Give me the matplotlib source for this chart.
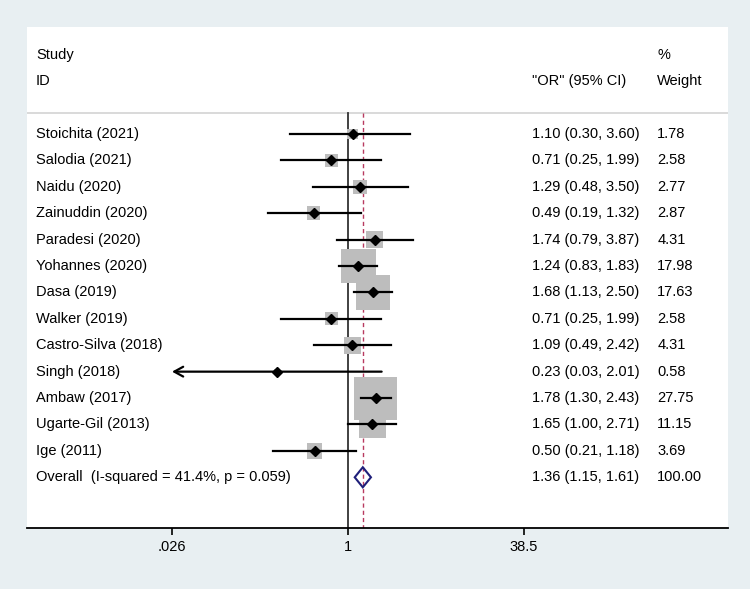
"""Forest plot of odds ratios (Stata metan style)."""

import numpy as np
import matplotlib

matplotlib.use("Agg")
import matplotlib.pyplot as plt

plt.rcParams["font.family"] = ["Liberation Sans", "DejaVu Sans"]

studies = [
    "Stoichita (2021)", "Salodia (2021)", "Naidu (2020)", "Zainuddin (2020)",
    "Paradesi (2020)", "Yohannes (2020)", "Dasa (2019)", "Walker (2019)",
    "Castro-Silva (2018)", "Singh (2018)", "Ambaw (2017)", "Ugarte-Gil (2013)",
    "Ige (2011)",
]
odds = [1.10, 0.71, 1.29, 0.49, 1.74, 1.24, 1.68, 0.71, 1.09, 0.23, 1.78, 1.65, 0.50]
ci_low = [0.30, 0.25, 0.48, 0.19, 0.79, 0.83, 1.13, 0.25, 0.49, 0.026, 1.30, 1.00, 0.21]
ci_high = [3.60, 1.99, 3.50, 1.32, 3.87, 1.83, 2.50, 1.99, 2.42, 2.01, 2.43, 2.71, 1.18]
weights = [1.78, 2.58, 2.77, 2.87, 4.31, 17.98, 17.63, 2.58, 4.31, 0.58, 27.75, 11.15, 3.69]

overall_label = "Overall  (I-squared = 41.4%, p = 0.059)"
overall_or, overall_low, overall_high = 1.36, 1.15, 1.61
overall_weight = 100.00

x_ticks = [0.026, 1, 38.5]
x_tick_labels = [".026", "1", "38.5"]

BG = "#e8eff2"
FS = 10.5

fig = plt.figure(figsize=(7.5, 5.89), dpi=100, facecolor=BG)
ax = fig.add_axes([27 / 750, 1 - 528 / 589, 701 / 750, 501 / 589])
ax.set_facecolor("white")
ax.set_xscale("log")
ax.set_xlim(0.001286, 2645)
y_bottom, y_top = 14.92, -4.05
ax.set_ylim(y_bottom, y_top)

for side in ("top", "left", "right"):
    ax.spines[side].set_visible(False)
ax.spines["bottom"].set_linewidth(1.3)
ax.set_yticks([])
ax.set_xticks(x_ticks)
ax.set_xticklabels(x_tick_labels, fontsize=FS)
ax.xaxis.set_minor_locator(matplotlib.ticker.NullLocator())
ax.tick_params(axis="x", length=5, width=1.2, pad=3.5)

sep_y = -0.8
ax.axhline(sep_y, color="#d3d3d3", lw=1.2, zorder=1)
ax.plot([1, 1], [sep_y, y_bottom], color="#333333", lw=1.3, zorder=1)
ax.plot([overall_or, overall_or], [sep_y, y_bottom], color="#b83a60", lw=1.0,
        dashes=(3, 2.2), zorder=1)

rows = np.arange(len(studies))
# weight boxes: area proportional to study weight
ax.scatter(odds, rows, marker="s", s=34.5 * np.array(weights), color="#bdbdbd",
           edgecolors="none", zorder=2)

for y, lo, hi in zip(rows, ci_low, ci_high):
    if lo <= x_ticks[0]:
        # CI runs off the plotted range: open arrowhead at the edge
        ax.annotate("", xy=(x_ticks[0], y), xytext=(hi, y),
                    arrowprops=dict(arrowstyle="->, head_length=0.4, head_width=0.22",
                                    lw=1.6, color="black", mutation_scale=16,
                                    shrinkA=0, shrinkB=0), zorder=3)
    else:
        ax.plot([lo, hi], [y, y], color="black", lw=1.6, zorder=3)
ax.plot(odds, rows, "D", color="black", markersize=5, zorder=4)

# overall diamond
oy = len(studies)
ax.fill([overall_low, overall_or, overall_high, overall_or],
        [oy, oy - 0.38, oy, oy + 0.38], facecolor="none",
        edgecolor="#1f1f7a", lw=1.5, zorder=4)

tr = ax.get_yaxis_transform()
x_study, x_ci, x_wt = 0.0128, 0.720, 0.899
ax.text(x_study, -3, "Study", transform=tr, va="center", fontsize=FS)
ax.text(x_study, -2, "ID", transform=tr, va="center", fontsize=FS)
ax.text(x_ci, -2, '"OR" (95% CI)', transform=tr, va="center", fontsize=FS)
ax.text(x_wt, -3, "%", transform=tr, va="center", fontsize=FS)
ax.text(x_wt, -2, "Weight", transform=tr, va="center", fontsize=FS)

for y, name, o, lo, hi, w in zip(rows, studies, odds, ci_low, ci_high, weights):
    ax.text(x_study, y, name, transform=tr, va="center", fontsize=FS)
    ax.text(x_ci, y, f"{o:.2f} ({lo:.2f}, {hi:.2f})", transform=tr,
            va="center", fontsize=FS)
    ax.text(x_wt, y, f"{w:.2f}", transform=tr, va="center", fontsize=FS)

ax.text(x_study, oy, overall_label, transform=tr, va="center", fontsize=FS)
ax.text(x_ci, oy, f"{overall_or:.2f} ({overall_low:.2f}, {overall_high:.2f})",
        transform=tr, va="center", fontsize=FS)
ax.text(x_wt, oy, f"{overall_weight:.2f}", transform=tr, va="center", fontsize=FS)

fig.savefig("out.png", dpi=100, facecolor=BG)
